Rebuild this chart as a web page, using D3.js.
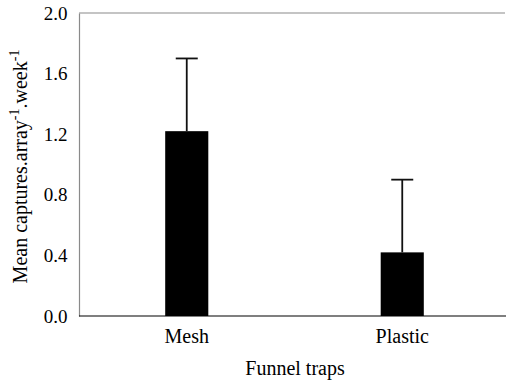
<!DOCTYPE html>
<html><head><meta charset="utf-8">
<script src="https://cdn.jsdelivr.net/npm/d3@7"></script>
<style>body{margin:0;background:#fff;} svg{display:block;}</style>
</head><body>
<script>
const categories = ["Mesh", "Plastic"];
const means = [1.22, 0.42];
const errors = [0.48, 0.48];
const yTicks = [0.0, 0.4, 0.8, 1.2, 1.6, 2.0];
const xTitle = "Funnel traps";

const FONT = '"Liberation Serif"';
const W = 506, H = 384;
const L = 79, R = 506, T = 13, B = 316;
const svg = d3.select("body").append("svg").attr("width", W).attr("height", H);

const x = d3.scaleBand().domain(categories).range([L, 510]).padding(0);
const y = d3.scaleLinear().domain([0, 2]).range([B, T]);
const bw = x.bandwidth() * 0.2;

// y axis
const ya = svg.append("g").attr("transform", `translate(${L},0)`)
  .call(d3.axisLeft(y).tickValues(yTicks).tickFormat(d3.format(".1f")).tickSize(0).tickSizeOuter(0).tickPadding(11.5));
ya.select(".domain").attr("stroke", "#8a8a8a").attr("stroke-width", 1.2);
ya.selectAll("text").style("font-family", FONT).style("font-size", "19px").attr("fill", "#000");

// top frame line
svg.append("line").attr("x1", L).attr("x2", R - 1).attr("y1", y(2)).attr("y2", y(2))
  .attr("stroke", "#8a8a8a").attr("stroke-width", 1.2);

// bars
const g = svg.append("g");
categories.forEach((c, i) => {
  const cx = x(c) + x.bandwidth() / 2;
  g.append("rect").attr("x", cx - bw / 2).attr("width", bw)
    .attr("y", y(means[i])).attr("height", y(0) - y(means[i])).attr("fill", "#000");
  g.append("line").attr("x1", cx).attr("x2", cx)
    .attr("y1", y(means[i])).attr("y2", y(means[i] + errors[i]))
    .attr("stroke", "#111").attr("stroke-width", 1.8);
  g.append("line").attr("x1", cx - 11).attr("x2", cx + 11)
    .attr("y1", y(means[i] + errors[i])).attr("y2", y(means[i] + errors[i]))
    .attr("stroke", "#111").attr("stroke-width", 1.8);
});

// x axis
const xa = svg.append("g").attr("transform", `translate(0,${B})`)
  .call(d3.axisBottom(x).tickSize(0).tickSizeOuter(0));
xa.select(".domain").remove();
xa.selectAll("text").style("font-family", FONT).style("font-size", "20px").attr("fill", "#000").attr("y", 27).attr("dy", 0);
svg.append("line").attr("x1", L).attr("x2", R).attr("y1", B).attr("y2", B)
  .attr("stroke", "#000").attr("stroke-width", 1.2);

// x title
svg.append("text").attr("x", 295).attr("y", 375).attr("text-anchor", "middle")
  .style("font-family", FONT).style("font-size", "20px").text(xTitle);

// y title
const yt = svg.append("text").attr("transform", "translate(27,166.5) rotate(-90)")
  .attr("text-anchor", "middle").style("font-family", FONT).style("font-size", "20px");
yt.append("tspan").text("Mean captures.array");
yt.append("tspan").style("font-size", "14px").attr("dy", -8).text("-1");
yt.append("tspan").attr("dy", 8).text(".week");
yt.append("tspan").style("font-size", "14px").attr("dy", -8).text("-1");
</script>
</body></html>
